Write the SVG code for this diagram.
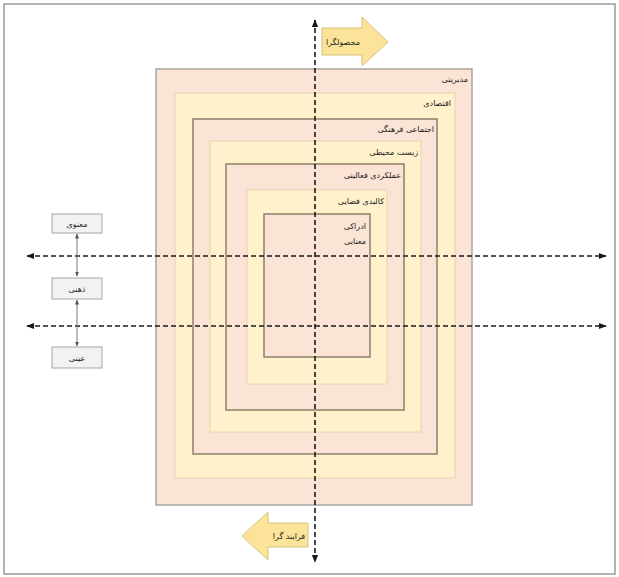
<svg xmlns="http://www.w3.org/2000/svg" width="619" height="577" viewBox="0 0 619 577">
<defs>
<style>
.sal{fill:#fbe3d6;}
.yel{fill:#fff1cc;}
.s0{stroke:#a9a59f;stroke-width:1.5;}
.sd{stroke:#948670;stroke-width:1.6;}
.sl{stroke:#e6d3ad;stroke-width:1;}
.lbl{font-family:"DejaVu Sans",sans-serif;font-size:8px;fill:#222;text-anchor:end;}
.box{fill:#f2f2f2;stroke:#a6a6a6;stroke-width:1;}
.btxt{font-family:"DejaVu Sans",sans-serif;font-size:8px;fill:#222;text-anchor:middle;}
.axis{stroke:#1a1a1a;stroke-width:1.6;stroke-dasharray:5,3;fill:none;}
.conn{stroke:#7a7a7a;stroke-width:1;fill:none;}
.barrow{fill:#fbe49a;stroke:#d8c27a;stroke-width:1;}
.atxt{font-family:"DejaVu Sans",sans-serif;font-size:8px;fill:#222;text-anchor:middle;}
</style>
<marker id="ah" viewBox="0 0 10 10" refX="9" refY="5" markerWidth="5" markerHeight="5" orient="auto-start-reverse">
<path d="M0,1 L10,5 L0,9 z" fill="#1a1a1a"/>
</marker>
<marker id="sah" viewBox="0 0 10 10" refX="9" refY="5" markerWidth="5" markerHeight="5" orient="auto-start-reverse">
<path d="M0,1 L10,5 L0,9 z" fill="#555"/>
</marker>
</defs>
<rect x="4" y="4" width="611" height="570" fill="#ffffff" stroke="#9a9a9a" stroke-width="1.5"/>

<g id="layer-modiriyati"><rect class="sal s0" x="156" y="69" width="316" height="436"/><text class="lbl" x="468" y="82">مدیریتی</text></g>
<g id="layer-eghtesadi"><rect class="yel sl" x="175" y="93" width="280" height="385"/><text class="lbl" x="451" y="106">اقتصادی</text></g>
<g id="layer-ejtemai"><rect class="sal sd" x="193" y="119" width="244" height="335"/><text class="lbl" x="434" y="132">اجتماعی فرهنگی</text></g>
<g id="layer-zist"><rect class="yel sl" x="210" y="141" width="211" height="291"/><text class="lbl" x="418" y="155">زیست محیطی</text></g>
<g id="layer-amalkardi"><rect class="sal sd" x="226" y="164" width="178" height="246"/><text class="lbl" x="401" y="178">عملکردی فعالیتی</text></g>
<g id="layer-kalbadi"><rect class="yel sl" x="247" y="190" width="140" height="194"/><text class="lbl" x="384" y="204">کالبدی فضایی</text></g>
<g id="layer-edraki"><rect class="sal sd" x="264" y="214" width="106" height="143"/><text class="lbl" x="366" y="229">ادراکی</text><text class="lbl" x="366" y="244">معنایی</text></g>

<g id="connectors">
<line class="axis" x1="315" y1="20" x2="315" y2="562" marker-start="url(#ah)" marker-end="url(#ah)"/>
<line class="axis" x1="27" y1="256" x2="606" y2="256" marker-start="url(#ah)" marker-end="url(#ah)"/>
<line class="axis" x1="27" y1="326" x2="606" y2="326" marker-start="url(#ah)" marker-end="url(#ah)"/>
<line class="conn" x1="77" y1="234" x2="77" y2="276" marker-start="url(#sah)" marker-end="url(#sah)"/>
<line class="conn" x1="77" y1="300" x2="77" y2="346" marker-start="url(#sah)" marker-end="url(#sah)"/>
</g>

<g id="box-manavi"><rect class="box" x="52" y="214" width="50" height="19"/><text class="btxt" x="77" y="227">معنوی</text></g>
<g id="box-zehni"><rect class="box" x="52" y="278" width="50" height="21"/><text class="btxt" x="77" y="292">ذهنی</text></g>
<g id="box-eini"><rect class="box" x="52" y="347" width="50" height="21"/><text class="btxt" x="77" y="361">عینی</text></g>

<g id="arrow-mahsoulgara"><path class="barrow" d="M322,28 L362,28 L362,17 L388,42 L362,66 L362,55 L322,55 z"/><text class="atxt" x="343" y="45">محصولگرا</text></g>
<g id="arrow-farayandgara"><path class="barrow" d="M308,523 L268,523 L268,512 L242,536 L268,560 L268,547 L308,547 z"/><text class="atxt" x="289" y="539">فرایند گرا</text></g>
</svg>
